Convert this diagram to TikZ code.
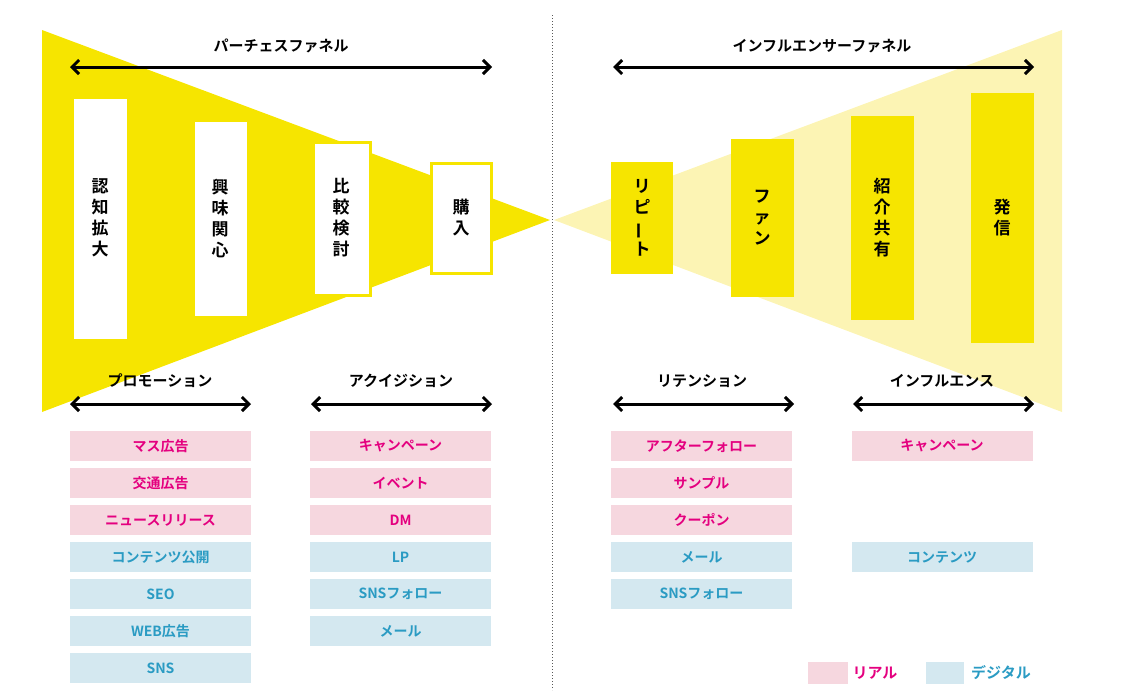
\documentclass[tikz,border=0pt]{standalone}
\usepackage{fontspec}
\setmainfont{Noto Sans CJK JP}[BoldFont={* Bold}]
\usetikzlibrary{arrows.meta}
\definecolor{yel}{HTML}{F6E500}
\definecolor{lyel}{HTML}{FCF4B4}
\definecolor{pk}{HTML}{F6D7DF}
\definecolor{pkt}{HTML}{E4007F}
\definecolor{bl}{HTML}{D4E8F0}
\definecolor{blt}{HTML}{2A9BC3}
\newcommand{\vbar}{\rotatebox[origin=c]{90}{ー}}
\begin{document}
\begin{tikzpicture}[x=1pt,y=-1pt,font=\bfseries,
  dbl/.style={{Straight Barb[length=7pt,width=14pt,line width=3pt]}-{Straight Barb[length=7pt,width=14pt,line width=3pt]},line width=3pt},
  lab/.style={font=\fontsize{15}{15}\selectfont\bfseries},
  vt/.style={font=\fontsize{17}{21}\selectfont\bfseries,align=center},
  wbox/.style={draw=yel,line width=3pt,fill=white},
  ybox/.style={fill=yel},
  pc/.style={fill=pk,minimum width=181pt,minimum height=30pt,inner sep=0pt,text=pkt,font=\fontsize{14}{14}\selectfont\bfseries},
  bc/.style={fill=bl,minimum width=181pt,minimum height=30pt,inner sep=0pt,text=blt,font=\fontsize{14}{14}\selectfont\bfseries}]
\useasboundingbox (0,0) rectangle (1125,699);
\fill[yel] (42,30) -- (550,220) -- (42,412) -- cycle;
\fill[lyel] (554,220) -- (1062,30) -- (1062,412) -- cycle;
\draw[dotted,line width=1pt,gray!70!black] (552,15) -- (552,690);
% left boxes
\draw[wbox] (72,97) rectangle (128,340); \node[vt] (b1) at (100,218) {認\\知\\拡\\大};
\draw[wbox] (193,120) rectangle (248,317); \node[vt] (b2) at (220,218) {興\\味\\関\\心};
\draw[wbox] (313,142) rectangle (370,295); \node[vt] (b3) at (341,218) {比\\較\\検\\討};
\draw[wbox] (431,163) rectangle (491,273); \node[vt] (b4) at (461,218) {購\\入};
% right boxes
\fill[ybox] (611,162) rectangle (673,274); \node[vt] (r1) at (642,218) {リ\\ピ\\\vbar\\ト};
\fill[ybox] (731,139) rectangle (794,297); \node[vt] (r2) at (762,218) {フ\\ァ\\ン};
\fill[ybox] (851,116) rectangle (914,320); \node[vt] (r3) at (882,218) {紹\\介\\共\\有};
\fill[ybox] (971,93) rectangle (1034,343); \node[vt] (r4) at (1002,218) {発\\信};
% headings and arrows
\node[lab] (h1) at (281,46) {パーチェスファネル};
\coordinate (a1l) at (70,67); \coordinate (a1r) at (492,67); \draw[dbl] (a1l) -- (a1r);
\node[lab] (h2) at (822,46) {インフルエンサーファネル};
\coordinate (a2l) at (613,67); \coordinate (a2r) at (1034,67); \draw[dbl] (a2l) -- (a2r);
\node[lab] (h3) at (160,381) {プロモーション};
\coordinate (a3l) at (70,404); \coordinate (a3r) at (251,404); \draw[dbl] (a3l) -- (a3r);
\node[lab] (h4) at (401,381) {アクイジション};
\coordinate (a4l) at (311,404); \coordinate (a4r) at (492,404); \draw[dbl] (a4l) -- (a4r);
\node[lab] (h5) at (702,381) {リテンション};
\coordinate (a5l) at (613,404); \coordinate (a5r) at (794,404); \draw[dbl] (a5l) -- (a5r);
\node[lab] (h6) at (942,381) {インフルエンス};
\coordinate (a6l) at (853,404); \coordinate (a6r) at (1034,404); \draw[dbl] (a6l) -- (a6r);
% cells
\node[pc] (c11) at (160.5,446) {マス広告};
\node[pc] (c12) at (160.5,483) {交通広告};
\node[pc] (c13) at (160.5,520) {ニュースリリース};
\node[bc] (c14) at (160.5,557) {コンテンツ公開};
\node[bc] (c15) at (160.5,594) {SEO};
\node[bc] (c16) at (160.5,631) {WEB広告};
\node[bc] (c17) at (160.5,668) {SNS};
\node[pc] (c21) at (400.5,446) {キャンペーン};
\node[pc] (c22) at (400.5,483) {イベント};
\node[pc] (c23) at (400.5,520) {DM};
\node[bc] (c24) at (400.5,557) {LP};
\node[bc] (c25) at (400.5,594) {SNSフォロー};
\node[bc] (c26) at (400.5,631) {メール};
\node[pc] (c31) at (701.5,446) {アフターフォロー};
\node[pc] (c32) at (701.5,483) {サンプル};
\node[pc] (c33) at (701.5,520) {クーポン};
\node[bc] (c34) at (701.5,557) {メール};
\node[bc] (c35) at (701.5,594) {SNSフォロー};
\node[pc] (c41) at (942,446) {キャンペーン};
\node[bc] (c44) at (942,557) {コンテンツ};
% legend
\fill[pk] (808,662) rectangle (848,684);
\node[text=pkt,font=\fontsize{15}{15}\selectfont\bfseries] (l1) at (875,673) {リアル};
\fill[bl] (926,662) rectangle (964,684);
\node[text=blt,font=\fontsize{15}{15}\selectfont\bfseries] (l2) at (1001,673) {デジタル};
\end{tikzpicture}
\end{document}
